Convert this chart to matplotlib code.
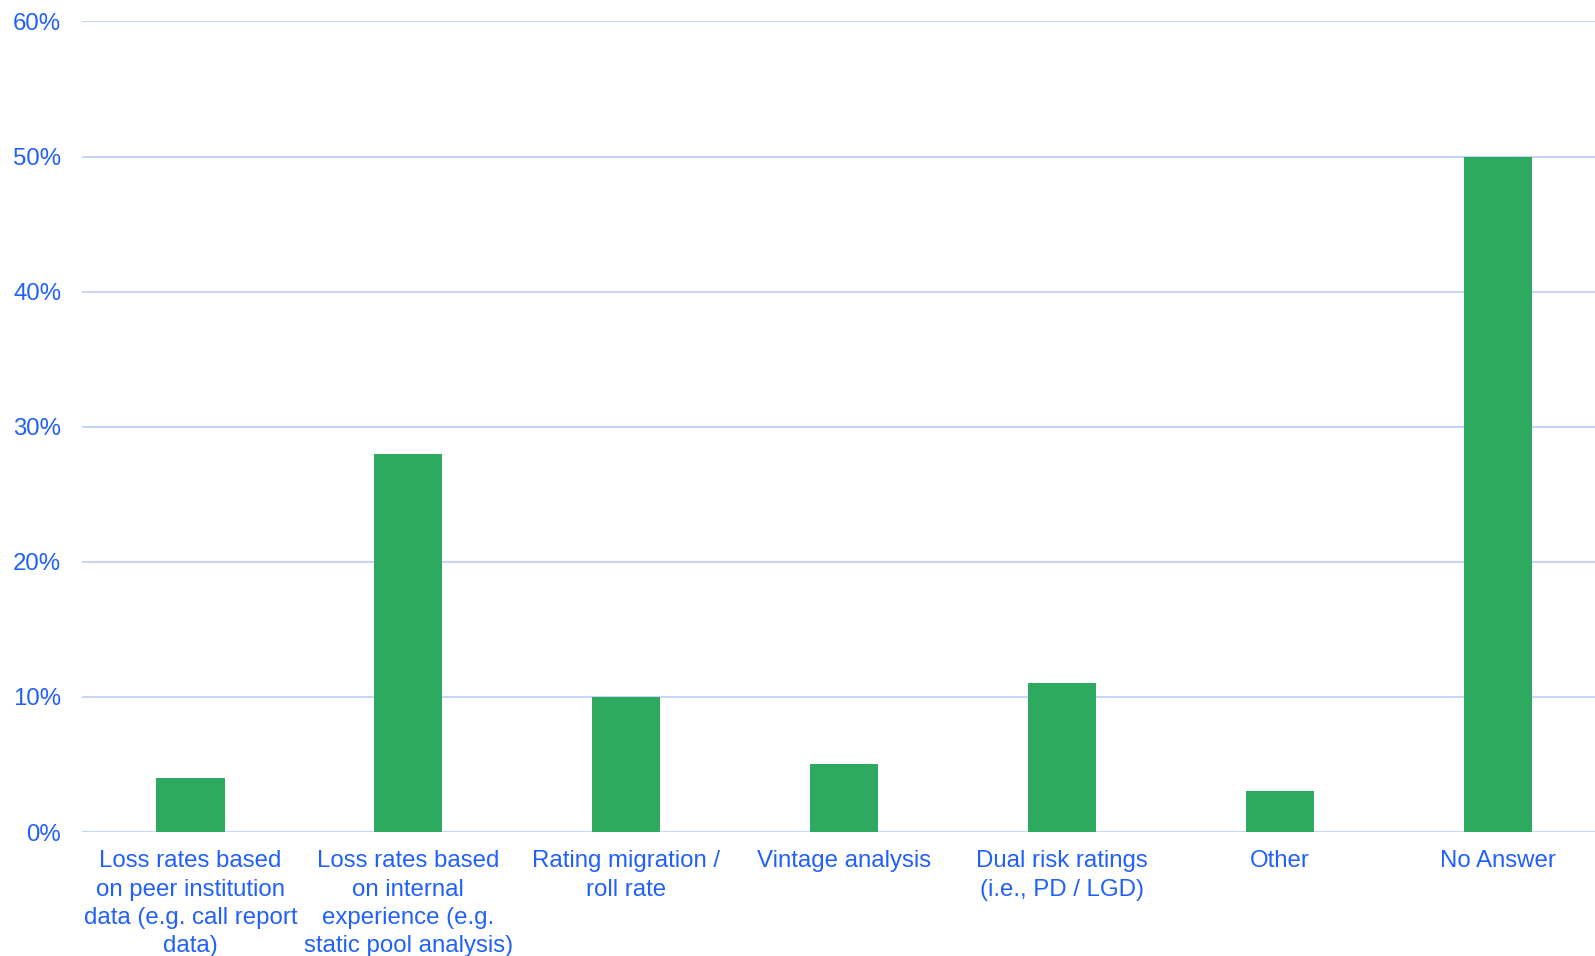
import matplotlib.pyplot as plt
from matplotlib.ticker import PercentFormatter

categories = [
    'Loss rates based\non peer institution\ndata (e.g. call report\ndata)',
    'Loss rates based\non internal\nexperience (e.g.\nstatic pool analysis)',
    'Rating migration /\nroll rate',
    'Vintage analysis',
    'Dual risk ratings\n(i.e., PD / LGD)',
    'Other',
    'No Answer',
]
values = [4, 28, 10, 5, 11, 3, 50]
y_ticks = [0, 10, 20, 30, 40, 50, 60]

text_blue = '#2160fb'
grid_blue = '#c9d5f7'
bar_green = '#2eaa60'

plt.rcParams['font.family'] = ['Liberation Sans', 'DejaVu Sans']

fig = plt.figure(figsize=(15.95, 9.56), dpi=100)
ax = fig.add_axes([0.0511, 0.1297, 0.9564, 0.8479])

x = list(range(len(categories)))
ax.bar(x, values, width=0.313, color=bar_green, zorder=3)

ax.set_xlim(-0.5, len(categories) - 0.5)
ax.set_ylim(0, 60)
ax.set_yticks(y_ticks)
ax.yaxis.set_major_formatter(PercentFormatter(decimals=0))
ax.set_xticks(x)
ax.set_xticklabels(categories, linespacing=1.38)

ax.grid(axis='y', color=grid_blue, linewidth=1.5, zorder=0)
for s in ax.spines.values():
    s.set_visible(False)
ax.tick_params(axis='both', length=0, labelsize=17.3, labelcolor=text_blue)
ax.tick_params(axis='y', pad=14.5)
ax.tick_params(axis='x', pad=13)

fig.savefig('out.png', dpi=100)
